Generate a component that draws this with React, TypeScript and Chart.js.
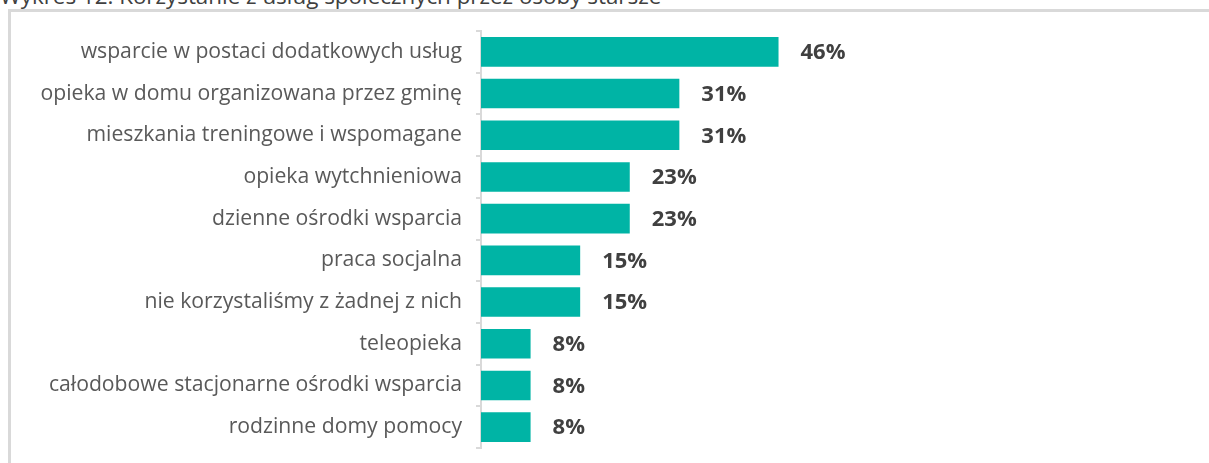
import React, { useEffect, useRef } from "react";
import { Chart, registerables } from "chart.js";

Chart.register(...registerables);

const TITLE = "Wykres 12. Korzystanie z usług społecznych przez osoby starsze";

const categories = [
  "wsparcie w postaci dodatkowych usług",
  "opieka w domu organizowana przez gminę",
  "mieszkania treningowe i wspomagane",
  "opieka wytchnieniowa",
  "dzienne ośrodki wsparcia",
  "praca socjalna",
  "nie korzystaliśmy z żadnej z nich",
  "teleopieka",
  "całodobowe stacjonarne ośrodki wsparcia",
  "rodzinne domy pomocy",
];

const values = [46.2, 30.8, 30.8, 23.1, 23.1, 15.4, 15.4, 7.7, 7.7, 7.7];

const FONT = "'Open Sans', sans-serif";
const BAR_COLOR = "#00B4A5";
const AXIS_COLOR = "#D9D9D9";

const valueLabels = {
  id: "valueLabels",
  afterDatasetsDraw(chart: any) {
    const { ctx } = chart;
    const meta = chart.getDatasetMeta(0);
    ctx.save();
    ctx.font = `bold 22px ${FONT}`;
    ctx.fillStyle = "#404040";
    ctx.textAlign = "left";
    ctx.textBaseline = "middle";
    meta.data.forEach((bar: any, i: number) => {
      const v = chart.data.datasets[0].data[i] as number;
      ctx.fillText(`${Math.round(v)}%`, bar.x + 22, bar.y + 1);
    });
    ctx.restore();
  },
};

export default function App() {
  const ref = useRef<HTMLCanvasElement>(null);

  useEffect(() => {
    document.body.style.margin = "0";
    const chart = new Chart(ref.current!, {
      type: "bar",
      data: {
        labels: categories,
        datasets: [
          {
            data: values,
            backgroundColor: BAR_COLOR,
            borderWidth: 0,
            barPercentage: 0.71,
            categoryPercentage: 1,
          },
        ],
      },
      options: {
        indexAxis: "y",
        animation: false,
        responsive: false,
        maintainAspectRatio: false,
        layout: { padding: { left: 0, top: 31, right: 84, bottom: 15 } },
        plugins: {
          legend: { display: false },
          tooltip: { enabled: false },
          title: { display: false },
        },
        scales: {
          x: { display: false, min: 0, max: 100 },
          y: {
            afterFit(scale: any) {
              scale.width = 481;
              scale.paddingTop = 0;
              scale.paddingBottom = 0;
            },
            grid: {
              offset: true,
              drawOnChartArea: false,
              drawTicks: true,
              tickLength: 5,
              color: AXIS_COLOR,
              lineWidth: 2,
            },
            border: { color: AXIS_COLOR, width: 2 },
            ticks: {
              padding: 14,
              color: "#595959",
              font: { family: FONT, size: 21.2 },
              autoSkip: false,
            },
          },
        },
      },
      plugins: [valueLabels],
    });
    return () => chart.destroy();
  }, []);

  return (
    <div
      style={{
        position: "fixed",
        left: 0,
        top: 0,
        width: 1209,
        height: 463,
        overflow: "hidden",
        background: "#fff",
      }}
    >
      <div
        style={{
          position: "absolute",
          left: 0,
          top: -16,
          fontFamily: FONT,
          fontSize: 22.4,
          color: "#404040",
          whiteSpace: "nowrap",
          lineHeight: "24px",
        }}
      >
        {TITLE}
      </div>
      <div
        style={{
          position: "absolute",
          left: 8,
          top: 9,
          width: 1240,
          height: 520,
          border: `3px solid ${AXIS_COLOR}`,
          boxSizing: "border-box",
        }}
      />
      <canvas
        ref={ref}
        width={1209}
        height={463}
        style={{ position: "absolute", left: 0, top: 0, width: 1209, height: 463 }}
      />
    </div>
  );
}
